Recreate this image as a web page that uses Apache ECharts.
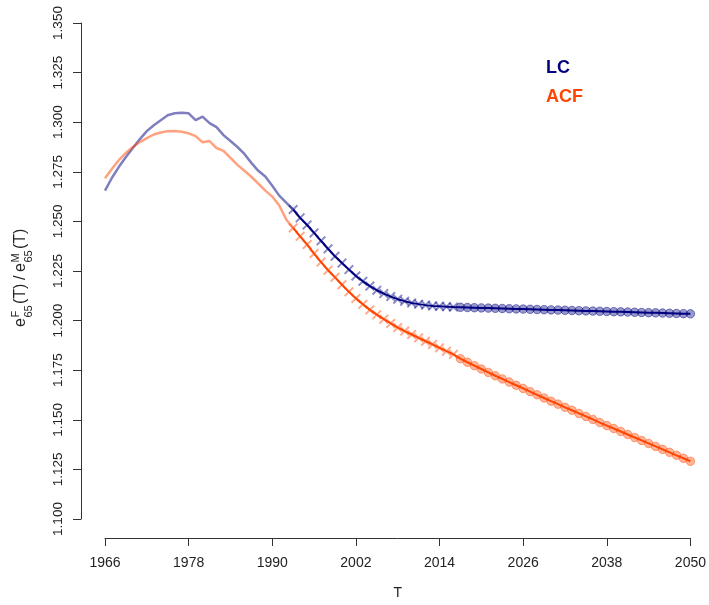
<!DOCTYPE html>
<html>
<head>
<meta charset="utf-8">
<script src="https://cdn.jsdelivr.net/npm/echarts@6/dist/echarts.min.js"></script>
<style>
  html, body { margin: 0; padding: 0; background: #fff; }
  #chart { width: 709px; height: 605px; }
</style>
</head>
<body>
<div id="chart"></div>
<script>
// Axis ticks
const xTicks = [1966, 1978, 1990, 2002, 2014, 2026, 2038, 2050];
const yTicks = [1.100, 1.125, 1.150, 1.175, 1.200, 1.225, 1.250, 1.275, 1.300, 1.325, 1.350];

// Observed ratio e65F/e65M, 1966-1993
const obsStart = 1966;
const lcObserved = [
  1.2655, 1.2720, 1.2775, 1.2825, 1.2870, 1.2915, 1.2955, 1.2985, 1.3010, 1.3035,
  1.3045, 1.3048, 1.3045, 1.3010, 1.3028, 1.2995, 1.2975, 1.2935, 1.2905, 1.2875,
  1.2840, 1.2795, 1.2755, 1.2726, 1.2680, 1.2630, 1.2595, 1.2560
];
const acfObserved = [
  1.2718, 1.2765, 1.2810, 1.2845, 1.2875, 1.2900, 1.2920, 1.2938, 1.2948, 1.2955,
  1.2956, 1.2952, 1.2944, 1.2930, 1.2899, 1.2905, 1.2870, 1.2855, 1.2820, 1.2785,
  1.2755, 1.2725, 1.2690, 1.2655, 1.2625, 1.2580, 1.2510, 1.2467
];

// Fitted values, 1993-2016
const fitStart = 1993;
const lcFitted = [
  1.2560, 1.2518, 1.2482, 1.2442, 1.2402, 1.2362, 1.2324, 1.2290, 1.2257, 1.2225,
  1.2198, 1.2174, 1.2153, 1.2136, 1.2121, 1.2108, 1.2098, 1.2089, 1.2083, 1.2078,
  1.2074, 1.2072, 1.2070, 1.2068
];
const acfFitted = [
  1.2467, 1.2425, 1.2383, 1.2338, 1.2295, 1.2254, 1.2218, 1.2181, 1.2145, 1.2112,
  1.2082, 1.2054, 1.2030, 1.2007, 1.1986, 1.1965, 1.1947, 1.1930, 1.1913, 1.1896,
  1.1880, 1.1863, 1.1846, 1.1830
];

// Forecasts, 2017-2050
const fcStart = 2017;
const lcForecast = [
  1.2067, 1.2066, 1.2065, 1.2064, 1.2063, 1.2062, 1.2061, 1.2060, 1.2059, 1.2058,
  1.2057, 1.2056, 1.2055, 1.2054, 1.2053, 1.2052, 1.2051, 1.2050, 1.2049, 1.2048,
  1.2047, 1.2046, 1.2045, 1.2044, 1.2043, 1.2042, 1.2041, 1.2040, 1.2039, 1.2038,
  1.2037, 1.2036, 1.2035, 1.2034
];
const acfForecast = [
  1.1808, 1.1790, 1.1773, 1.1756, 1.1739, 1.1722, 1.1706, 1.1690, 1.1674, 1.1658,
  1.1642, 1.1626, 1.1610, 1.1594, 1.1579, 1.1563, 1.1548, 1.1532, 1.1517, 1.1502,
  1.1486, 1.1471, 1.1456, 1.1441, 1.1426, 1.1411, 1.1396, 1.1381, 1.1366, 1.1351,
  1.1336, 1.1321, 1.1306, 1.1291
];

const NAVY = '#000080';
const ORANGE = '#FF4500';
const FONT = '"Liberation Sans", Arial, Helvetica, sans-serif';
const CROSS = 'path://M0,1.4L1.4,0L5,3.6L8.6,0L10,1.4L6.4,5L10,8.6L8.6,10L5,6.4L1.4,10L0,8.6L3.6,5Z';

function alpha(hex, a) {
  const n = parseInt(hex.slice(1), 16);
  return 'rgba(' + (n >> 16) + ',' + ((n >> 8) & 255) + ',' + (n & 255) + ',' + a + ')';
}

function pairs(start, values) {
  return values.map((v, i) => [start + i, v]);
}

// Fitted points drawn as crosses, forecasts as filled circles
function modelData(fitted, forecast, color) {
  const out = [];
  fitted.forEach((v, i) => out.push({
    value: [fitStart + i, v],
    symbol: CROSS, symbolSize: 10,
    itemStyle: { color: alpha(color, 0.45), borderWidth: 0 }
  }));
  forecast.forEach((v, i) => out.push({
    value: [fcStart + i, v],
    symbol: 'circle', symbolSize: 8.5,
    itemStyle: { color: alpha(color, 0.4), borderColor: alpha(color, 0.45), borderWidth: 1 }
  }));
  return out;
}

const chart = echarts.init(document.getElementById('chart'), null, { renderer: 'canvas' });

// Rotated y-axis title: e^F_65(T) / e^M_65(T)
const big = 'normal 16px ' + FONT;
const small = 'normal 11px ' + FONT;
const titleColor = '#222';
function t(x, y, text, font) {
  return { type: 'text', x: x, y: y, style: { text: text, font: font, fill: titleColor, verticalAlign: 'middle', align: 'left' } };
}

chart.setOption({
  animation: false,
  backgroundColor: '#fff',
  grid: { left: 105, right: 13, top: 23, bottom: 85 },
  legend: {
    left: 536, top: 54.5, orient: 'vertical',
    itemWidth: 0, itemHeight: 14, itemGap: 11,
    selectedMode: false,
    textStyle: { fontFamily: FONT, fontWeight: 'bold', fontSize: 18, lineHeight: 18 },
    data: [
      { name: 'LC', icon: 'none', textStyle: { color: NAVY } },
      { name: 'ACF', icon: 'none', textStyle: { color: ORANGE } }
    ]
  },
  xAxis: {
    type: 'value', min: 1966, max: 2050, offset: 19,
    name: 'T', nameLocation: 'middle', nameGap: 48,
    nameTextStyle: { fontFamily: FONT, fontSize: 14, color: '#222' },
    axisLine: { show: true, lineStyle: { color: '#333', width: 1 } },
    axisTick: { show: true, length: 8, inside: false, customValues: xTicks, lineStyle: { color: '#333' } },
    axisLabel: {
      customValues: xTicks, margin: 18, fontFamily: FONT, fontSize: 14, color: '#222',
      formatter: v => String(v)
    },
    splitLine: { show: false }
  },
  yAxis: {
    type: 'value', min: 1.1, max: 1.35, offset: 24,
    axisLine: { show: true, lineStyle: { color: '#333', width: 1 } },
    axisTick: { show: true, length: 8, inside: false, customValues: yTicks, lineStyle: { color: '#333' } },
    axisLabel: {
      customValues: yTicks, rotate: 90, margin: 16,
      fontFamily: FONT, fontSize: 13.5, color: '#222',
      formatter: v => v.toFixed(3)
    },
    splitLine: { show: false }
  },
  graphic: [{
    type: 'group', x: 26.5, y: 327, rotation: Math.PI / 2,
    children: [
      t(0, -5.6, 'e', big),
      t(9.5, -10.9, 'F', small),
      t(9.5, 2.1, '65', small),
      t(23, -5.6, '(T)', big),
      t(47, -5.6, '/', big),
      t(55, -5.6, 'e', big),
      t(64.5, -10.9, 'M', small),
      t(64.5, 2.1, '65', small),
      t(78, -5.6, '(T)', big)
    ]
  }],
  series: [
    {
      name: 'LC', type: 'line', data: pairs(obsStart, lcObserved),
      showSymbol: false, symbol: 'none', color: NAVY,
      lineStyle: { color: alpha(NAVY, 0.5), width: 2.5 }, z: 2
    },
    {
      name: 'ACF', type: 'line', data: pairs(obsStart, acfObserved),
      showSymbol: false, symbol: 'none', color: ORANGE,
      lineStyle: { color: alpha(ORANGE, 0.5), width: 2.5 }, z: 2
    },
    {
      name: 'LC', type: 'line', data: modelData(lcFitted, lcForecast, NAVY),
      showSymbol: true, color: NAVY,
      lineStyle: { color: NAVY, width: 2 }, z: 3
    },
    {
      name: 'ACF', type: 'line', data: modelData(acfFitted, acfForecast, ORANGE),
      showSymbol: true, color: ORANGE,
      lineStyle: { color: ORANGE, width: 2 }, z: 3
    }
  ]
});
</script>
</body>
</html>
